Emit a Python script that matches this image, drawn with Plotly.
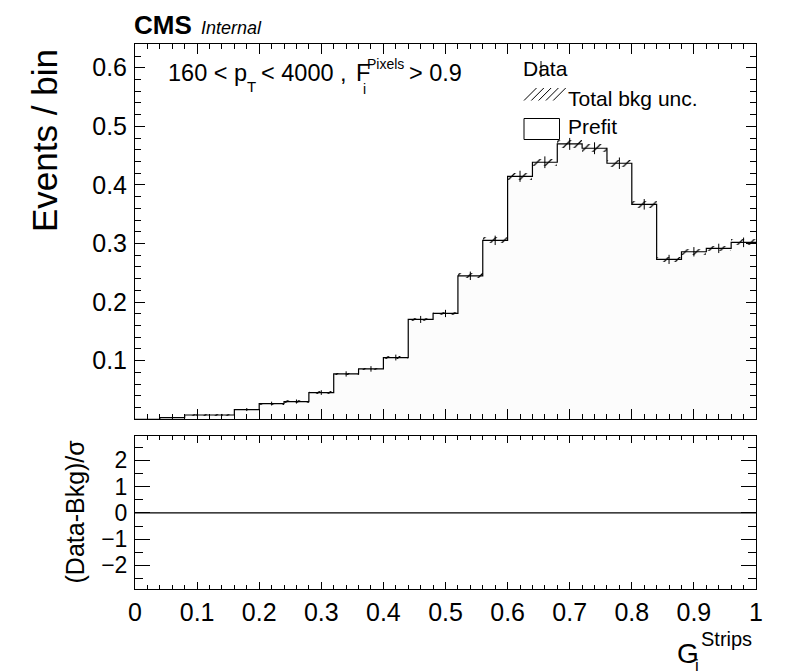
import plotly.graph_objects as go

# ---------------- data ----------------
bin_edges = [0.00, 0.04, 0.08, 0.12, 0.16, 0.20, 0.24, 0.28, 0.32, 0.36, 0.40, 0.44, 0.48,
             0.52, 0.56, 0.60, 0.64, 0.68, 0.72, 0.76, 0.80, 0.84, 0.88, 0.92, 0.96, 1.00]
prefit = [0.0, 0.0029, 0.0073, 0.0073, 0.0166, 0.0268, 0.0303, 0.0456, 0.0774, 0.0860,
          0.1054, 0.1704, 0.1806, 0.2449, 0.3054, 0.4147, 0.4387, 0.4700, 0.4626, 0.4370,
          0.3669, 0.2729, 0.2859, 0.2917, 0.3020]
bkg_unc = [0.0, 0.0008, 0.0012, 0.0012, 0.0015, 0.0018, 0.0020, 0.0025, 0.0022, 0.0023,
           0.0025, 0.0030, 0.0030, 0.0045, 0.0050, 0.0060, 0.0062, 0.0065, 0.0065, 0.0062,
           0.0055, 0.0045, 0.0047, 0.0048, 0.0050]
data = [0.0, 0.0029, 0.0073, 0.0073, 0.0166, 0.0268, 0.0303, 0.0456, 0.0774, 0.0860,
        0.1054, 0.1704, 0.1806, 0.2449, 0.3054, 0.4147, 0.4387, 0.4700, 0.4626, 0.4370,
        0.3669, 0.2729, 0.2859, 0.2917, 0.3020]
data_err = [0.0, 0.0012, 0.0018, 0.0018, 0.0026, 0.0033, 0.0035, 0.0040, 0.0045, 0.0047,
            0.0050, 0.0060, 0.0062, 0.0072, 0.0080, 0.0095, 0.0100, 0.0102, 0.0101, 0.0098,
            0.0090, 0.0078, 0.0080, 0.0080, 0.0082]
pull = [0, 0, 0, 0, 0, 0, 0, 0, 0, 0, 0, 0, 0, 0, 0, 0, 0, 0, 0, 0, 0, 0, 0, 0, 0]

centers = [(a + b) / 2 for a, b in zip(bin_edges[:-1], bin_edges[1:])]
widths = [b - a for a, b in zip(bin_edges[:-1], bin_edges[1:])]

# ---------------- geometry (page pixels; page body has an 8px offset) ----------------
OFF = 8
FW, FH = 788, 664
L, R, T, B = 135, 756, 44, 589          # plot frame in page pixels
MAIN_BOT, RAT_TOP = 419, 436
PH = B - T


def px(x):
    return (x - L) / (R - L)


def py(y):
    return (B - y) / PH


FONT = "Liberation Sans, Arial, Helvetica, sans-serif"

fig = go.Figure()

# prefit filled histogram
fig.add_trace(go.Bar(x=centers, y=prefit, width=widths, marker=dict(color="#fcfcfc", line=dict(width=0)),
                     xaxis="x", yaxis="y", showlegend=False, hoverinfo="skip"))
# total bkg uncertainty (hatched)
fig.add_trace(go.Bar(x=centers, y=[2 * u for u in bkg_unc], base=[v - u for v, u in zip(prefit, bkg_unc)],
                     width=widths,
                     marker=dict(color="rgba(0,0,0,0)", line=dict(width=0),
                                 pattern=dict(shape="/", fgcolor="black", bgcolor="rgba(0,0,0,0)",
                                              size=8, solidity=0.15, fillmode="replace")),
                     xaxis="x", yaxis="y", showlegend=False, hoverinfo="skip"))
# prefit outline
fig.add_trace(go.Scatter(x=bin_edges, y=prefit + [prefit[-1]], mode="lines", line_shape="hv",
                         line=dict(color="black", width=1.2), xaxis="x", yaxis="y", showlegend=False))
# data
fig.add_trace(go.Scatter(x=centers, y=data, mode="markers", marker=dict(size=1, color="black"),
                         error_y=dict(type="data", array=data_err, color="black", thickness=1, width=0),
                         xaxis="x", yaxis="y", showlegend=False))
# pull panel
fig.add_trace(go.Scatter(x=bin_edges, y=pull + [pull[-1]], mode="lines", line_shape="hv",
                         line=dict(color="black", width=1.2), xaxis="x2", yaxis="y2", showlegend=False))

axis_common = dict(showgrid=False, zeroline=False, showline=True, linecolor="black", linewidth=1,
                   mirror="ticks", ticks="inside", tickcolor="black", tickwidth=1)

fig.update_layout(
    width=FW, height=FH,
    margin=dict(l=L - OFF, r=FW - (R - OFF), t=T - OFF, b=FH - (B - OFF), pad=0),
    paper_bgcolor="white", plot_bgcolor="white",
    barmode="overlay", bargap=0,
    font=dict(family=FONT, color="black"),
    xaxis=dict(domain=[0, 1], anchor="y", range=[0, 1], dtick=0.1, tick0=0, ticklen=10,
               showticklabels=False,
               minor=dict(dtick=0.02, ticklen=5, ticks="inside", tickcolor="black"), **axis_common),
    yaxis=dict(domain=[py(MAIN_BOT), 1], anchor="x", range=[0.0005, 0.6405], dtick=0.1, tick0=0,
               ticklen=10, tickfont=dict(size=25), ticklabelstandoff=2,
               minor=dict(dtick=0.02, ticklen=6, ticks="inside", tickcolor="black"), **axis_common),
    xaxis2=dict(domain=[0, 1], anchor="y2", range=[0, 1], dtick=0.1, tick0=0, ticklen=7,
                tickfont=dict(size=25), ticklabelstandoff=1,
                minor=dict(dtick=0.02, ticklen=4, ticks="inside", tickcolor="black"), **axis_common),
    yaxis2=dict(domain=[0, py(RAT_TOP)], anchor="x2", range=[-2.9, 2.93], dtick=1, tick0=0,
                ticklen=15, tickfont=dict(size=23), ticklabelstandoff=2,
                minor=dict(dtick=0.5, ticklen=8, ticks="inside", tickcolor="black"), **axis_common),
)


def text(s, x, y, size, xanchor="left", yanchor="middle", angle=0, bold=False, italic=False):
    if bold:
        s = "<b>" + s + "</b>"
    if italic:
        s = "<i>" + s + "</i>"
    fig.add_annotation(text=s, x=px(x), y=py(y), xref="paper", yref="paper", showarrow=False,
                       xanchor=xanchor, yanchor=yanchor, textangle=angle,
                       font=dict(size=size, family=FONT, color="black"), borderpad=0)


# CMS label
text("CMS", 133, 25, 26, bold=True)
text("Internal", 200, 27.5, 18, italic=True)

# selection label
text("160 &lt; p", 167, 73, 23.5)
text("T", 246, 86, 15)
text("&lt; 4000 ,", 260, 73, 23.5)
text("F", 355, 73, 23.5)
text("i", 362, 89, 14)
text("Pixels", 366, 64, 14)
text("&gt; 0.9", 408, 73, 23.5)

# legend
text("Data", 522, 68.5, 21)
text("Total bkg unc.", 567, 98, 21)
text("Prefit", 567, 127, 21)
fig.add_shape(type="line", x0=px(541), x1=px(541), y0=py(61), y1=py(77), xref="paper", yref="paper",
              line=dict(color="black", width=1))
for k in range(5):
    x0 = 524 + k * 7.3
    fig.add_shape(type="line", x0=px(x0), x1=px(x0 + 12.5), y0=py(100.5), y1=py(88), xref="paper",
                  yref="paper", line=dict(color="black", width=1))
fig.add_shape(type="rect", x0=px(524), x1=px(559.5), y0=py(139.5), y1=py(118.5), xref="paper", yref="paper",
              line=dict(color="black", width=1), fillcolor="white")

# axis titles
text("Events / bin", 44, 140, 35, xanchor="center", angle=-90)
text("(Data-Bkg)/σ", 74, 511.5, 25, xanchor="center", angle=-90)
text("G", 676, 653, 28)
text("i", 694, 665, 17)
text("Strips", 699.5, 639, 20)

fig.write_html("out.html")
